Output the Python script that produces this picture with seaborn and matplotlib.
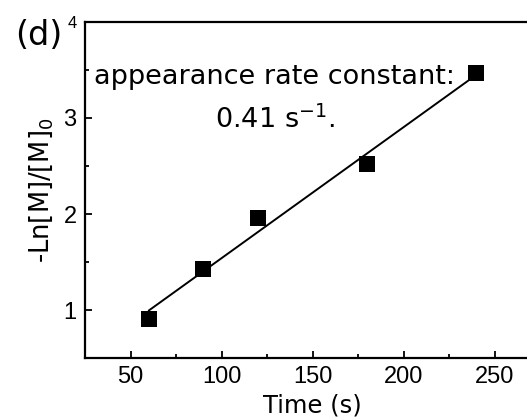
import matplotlib
matplotlib.use("Agg")
import matplotlib.pyplot as plt
import seaborn as sns
import pandas as pd
from matplotlib.ticker import MultipleLocator

time_s = [60, 90, 120, 180, 240]
neg_ln_ratio = [0.91, 1.43, 1.96, 2.52, 3.47]
x_ticks = [50, 100, 150, 200, 250]
y_ticks = [1, 2, 3, 4]

df = pd.DataFrame({"Time (s)": time_s, "val": neg_ln_ratio})

sns.set_theme(style="ticks")
plt.rcParams["font.family"] = ["Liberation Sans", "DejaVu Sans"]
plt.rcParams["mathtext.default"] = "regular"
plt.rcParams["text.color"] = "black"
plt.rcParams["axes.labelcolor"] = "black"
plt.rcParams["xtick.color"] = "black"
plt.rcParams["ytick.color"] = "black"

fig = plt.figure(figsize=(5.27, 4.19), dpi=100)
ax = fig.add_axes([85/527, (419-358)/419, (540-85)/527, 336/419])

sns.regplot(data=df, x="Time (s)", y="val", ax=ax, ci=None, truncate=True,
            marker="s", color="black",
            scatter_kws=dict(s=130, edgecolor="black", linewidths=0, zorder=3, alpha=1),
            line_kws=dict(lw=1.4, color="black"))

ax.set_xlim(25, 275)
ax.set_ylim(0.5, 4)
ax.set_xticks(x_ticks)
ax.set_yticks(y_ticks)
ax.xaxis.set_minor_locator(MultipleLocator(25))
ax.yaxis.set_minor_locator(MultipleLocator(0.5))
ax.tick_params(which="major", direction="in", length=5, width=1.3, labelsize=17,
               colors="black", labelcolor="black", pad=6)
ax.tick_params(which="minor", direction="in", length=3, width=1.3, colors="black")
for s in ax.spines.values():
    s.set_linewidth(1.6)
    s.set_color("black")
    s.set_visible(True)
ax.get_yticklabels()[-1].set_fontsize(12)

ax.set_xlabel("Time (s)", fontsize=17.5, family="DejaVu Sans", labelpad=4, color="black")
ax.set_ylabel("-Ln[M]/[M]$_0$", fontsize=18.5, family="DejaVu Sans", labelpad=6, color="black")

ax.text(0.4165, 0.815, "appearance rate constant:", transform=ax.transAxes,
        ha="center", va="baseline", fontsize=19.5, family="DejaVu Sans", color="black")
ax.text(0.4176, 0.685, "0.41 s$^{-1}$.", transform=ax.transAxes,
        ha="center", va="baseline", fontsize=19.5, family="DejaVu Sans", color="black")
fig.text(15/527, 1 - 45/419, "(d)", ha="left", va="baseline", fontsize=24,
         family="DejaVu Sans", color="black")

fig.savefig("out.png", dpi=100)
